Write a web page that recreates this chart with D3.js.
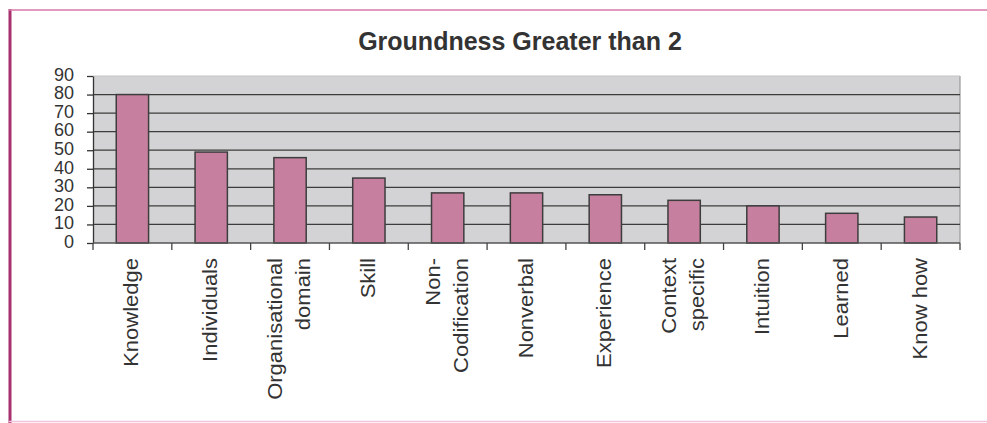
<!DOCTYPE html>
<html>
<head>
<meta charset="utf-8">
<script src="https://cdn.jsdelivr.net/npm/d3@7"></script>
<style>
  html, body { margin: 0; padding: 0; background: #fff; }
  svg { display: block; }
</style>
</head>
<body>
<svg id="chart" width="987" height="423"></svg>
<script>
// ---- data ----
const categories = ["Knowledge","Individuals","Organisational domain","Skill","Non-Codification","Nonverbal","Experience","Context specific","Intuition","Learned","Know how"];
const labelLines = [["Knowledge"],["Individuals"],["Organisational","domain"],["Skill"],["Non-","Codification"],["Nonverbal"],["Experience"],["Context","specific"],["Intuition"],["Learned"],["Know how"]];
const values = [80, 49, 46, 35, 27, 27, 26, 23, 20, 16, 14];
const yTicks = [0, 10, 20, 30, 40, 50, 60, 70, 80, 90];
const title = "Groundness Greater than 2";

// ---- layout ----
const W = 987, H = 423;
const plot = { left: 93, right: 960, top: 76, bottom: 243 };
const svg = d3.select("#chart");

// outer frame
svg.append("line").attr("x1", 10).attr("x2", 10).attr("y1", 9).attr("y2", H)
  .attr("stroke", "#a8306e").attr("stroke-width", 3);
svg.append("line").attr("x1", 9).attr("x2", W).attr("y1", 10).attr("y2", 10)
  .attr("stroke", "#d77aa8").attr("stroke-width", 1.5);
svg.append("line").attr("x1", 9).attr("x2", W).attr("y1", 421.5).attr("y2", 421.5)
  .attr("stroke", "#efc4dc").attr("stroke-width", 1.5);

const x = d3.scaleBand().domain(categories).range([plot.left, plot.right])
  .paddingInner(0.59).paddingOuter(0.295);
const y = d3.scaleLinear().domain([0, 90]).range([plot.bottom, plot.top]);

// plot background
svg.append("rect").attr("x", plot.left).attr("y", y(90))
  .attr("width", plot.right - plot.left).attr("height", y(0) - y(90))
  .attr("fill", "#d3d3d5");
// right / top edge of plot area
svg.append("line").attr("x1", plot.right).attr("x2", plot.right).attr("y1", y(90)).attr("y2", y(0))
  .attr("stroke", "#9a9a9a").attr("stroke-width", 1.2);
svg.append("line").attr("x1", plot.left).attr("x2", plot.right).attr("y1", y(90)).attr("y2", y(90))
  .attr("stroke", "#c4c4c6").attr("stroke-width", 1);

// gridlines
svg.append("g").selectAll("line").data(yTicks.filter(d => d > 0 && d < 90)).join("line")
  .attr("x1", plot.left).attr("x2", plot.right)
  .attr("y1", d => y(d)).attr("y2", d => y(d))
  .attr("stroke", "#3c3c3c").attr("stroke-width", 1.2);

// bars
svg.append("g").selectAll("rect").data(values).join("rect")
  .attr("x", (d, i) => x(categories[i]))
  .attr("y", d => y(d))
  .attr("width", x.bandwidth())
  .attr("height", d => y(0) - y(d))
  .attr("fill", "#c77f9f")
  .attr("stroke", "#3d3d3d").attr("stroke-width", 1.5);

// y axis
const yAxis = svg.append("g").attr("transform", `translate(${plot.left},0)`)
  .call(d3.axisLeft(y).tickValues(yTicks).tickSize(6).tickPadding(13).tickSizeOuter(0));
yAxis.select(".domain").attr("stroke", "#333").attr("stroke-width", 1.3);
yAxis.selectAll(".tick line").attr("stroke", "#333").attr("stroke-width", 1.3);
yAxis.selectAll(".tick text").attr("font-family", "Liberation Sans, Arial, sans-serif")
  .attr("font-size", 18).attr("fill", "#333").attr("dy", "0.24em");

// x axis line & boundary ticks
const step = x.step();
const bounds = categories.map(c => x(c) - (step - x.bandwidth()) / 2).concat([plot.right]);
svg.append("line").attr("x1", plot.left).attr("x2", plot.right).attr("y1", y(0)).attr("y2", y(0))
  .attr("stroke", "#555").attr("stroke-width", 1.3);
svg.append("g").selectAll("line").data(bounds).join("line")
  .attr("x1", d => d).attr("x2", d => d).attr("y1", y(0)).attr("y2", y(0) + 7)
  .attr("stroke", "#444").attr("stroke-width", 1.3);

// x labels (rotated)
const lineGap = 28;
const lab = svg.append("g").selectAll("g").data(categories).join("g")
  .attr("transform", c => `translate(${x(c) + x.bandwidth() / 2},258) rotate(-90) scale(1.1,1)`);
lab.each(function(c, i) {
  const lines = labelLines[i];
  const g = d3.select(this);
  lines.forEach((t, j) => {
    g.append("text").text(t)
      .attr("x", 0)
      .attr("y", (j - (lines.length - 1) / 2) * lineGap + 6)
      .attr("text-anchor", "end")
      .attr("font-family", "Liberation Sans, Arial, sans-serif")
      .attr("font-size", 20)
      .attr("fill", "#333");
  });
});

// title
svg.append("text").text(title)
  .attr("x", 520).attr("y", 50)
  .attr("text-anchor", "middle")
  .attr("font-family", "Liberation Sans, Arial, sans-serif")
  .attr("font-weight", "bold").attr("font-size", 25)
  .attr("fill", "#333");
</script>
</body>
</html>
